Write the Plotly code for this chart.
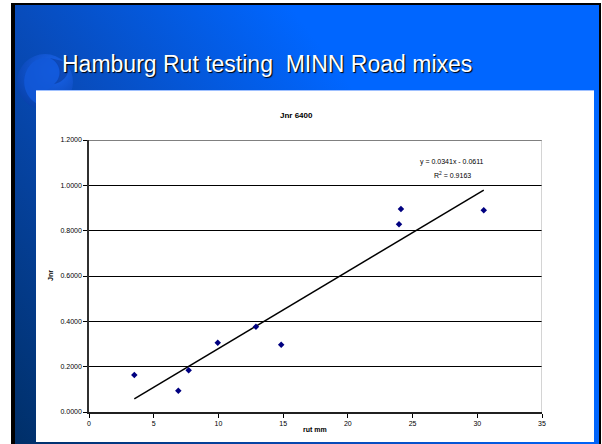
import base64
import plotly.graph_objects as go

# ---- data ----
rut_mm = [3.5, 6.9, 7.7, 9.95, 12.9, 14.85, 23.95, 24.1, 30.5]
jnr = [0.163, 0.094, 0.184, 0.306, 0.376, 0.297, 0.828, 0.896, 0.890]
slope = 0.0341
intercept = -0.0611
r_squared = 0.9163
x_ticks = [0, 5, 10, 15, 20, 25, 30, 35]
y_ticks = [0.0, 0.2, 0.4, 0.6, 0.8, 1.0, 1.2]

W, H = 602, 444

trend_x = [min(rut_mm), max(rut_mm)]
trend_y = [slope * v + intercept for v in trend_x]

# ---- slide background as an inline SVG ----
svg = f'''<svg xmlns="http://www.w3.org/2000/svg" width="{W}" height="{H}" viewBox="0 0 {W} {H}">
<defs>
<linearGradient id="g" gradientUnits="userSpaceOnUse" x1="15" y1="444" x2="400" y2="150">
<stop offset="0" stop-color="#002f68"/>
<stop offset="0.55" stop-color="#084cbc"/>
<stop offset="1" stop-color="#0066ff"/>
</linearGradient>
<radialGradient id="r" cx="0.65" cy="0.3" r="0.8">
<stop offset="0" stop-color="#1a66f0"/>
<stop offset="1" stop-color="#0740a8"/>
</radialGradient>
</defs>
<rect x="0" y="0" width="{W}" height="{H}" fill="#ffffff"/>
<rect x="11" y="3" width="590" height="441" fill="#000000"/>
<rect x="15" y="5" width="584" height="439" fill="url(#g)"/>
<circle cx="45" cy="82" r="28" fill="url(#r)"/>
<path d="M33 62 C 48 52, 66 62, 60 78 C 55 90, 40 88, 38 104 C 24 98, 18 76, 33 62 Z" fill="#1258d8" opacity="0.85"/>
<path d="M50 58 C 62 64, 62 78, 54 84 C 66 82, 72 70, 66 62 Z" fill="#0a3c9c" opacity="0.6"/>
<rect x="36" y="90" width="558" height="352" fill="#ffffff"/>
<rect x="36" y="90" width="558" height="1" fill="#9fc0ff"/>
</svg>'''
svg_uri = "data:image/svg+xml;base64," + base64.b64encode(svg.encode()).decode()

def px(x):
    return x / W

def py(y):
    return 1 - y / H

fig = go.Figure()

fig.add_trace(go.Scatter(
    x=trend_x, y=trend_y, mode="lines",
    line=dict(color="black", width=1.5),
    hoverinfo="skip", showlegend=False,
))
fig.add_trace(go.Scatter(
    x=rut_mm, y=jnr, mode="markers",
    marker=dict(symbol="diamond", size=5, color="#000080"),
    showlegend=False,
))

tick_font = dict(family="Liberation Sans, Arial, sans-serif", size=7, color="black")

fig.update_xaxes(
    domain=[px(89), px(542)], range=[0, 35], tickvals=x_ticks,
    ticks="outside", ticklen=4, tickcolor="black", tickwidth=1,
    showline=True, linecolor="#202020", linewidth=1.5,
    showgrid=False, zeroline=False, tickfont=tick_font, automargin=False,
)
fig.update_yaxes(
    domain=[py(412), py(140)], range=[0, 1.2], tickvals=y_ticks,
    tickformat=".4f", ticks="outside", ticklen=4, tickcolor="black", tickwidth=1,
    showline=True, linecolor="#303030", linewidth=1.5,
    showgrid=True, gridcolor="black", gridwidth=1,
    zeroline=False, tickfont=tick_font, automargin=False,
)

# plot area top / right border
fig.add_shape(type="line", xref="x", yref="y", x0=0, x1=35, y0=1.2, y1=1.2,
              line=dict(color="#808080", width=2))
fig.add_shape(type="line", xref="x", yref="y", x0=35, x1=35, y0=0, y1=1.2,
              line=dict(color="#a8a8a8", width=1))

annotations = [
    dict(text="Hamburg Rut testing  MINN Road mixes", x=px(267), y=py(64),
         font=dict(family="Liberation Sans, Arial, sans-serif", size=23, color="white",
                   shadow="1px 1px 1px #000000")),
    dict(text="<b>Jnr 6400</b>", x=px(296), y=py(115),
         font=dict(family="Liberation Sans, Arial, sans-serif", size=8, color="black")),
    dict(text="<b>Jnr</b>", x=px(50), y=py(276), textangle=-90,
         font=dict(family="Liberation Sans, Arial, sans-serif", size=7, color="black")),
    dict(text="<b>rut mm</b>", x=px(315), y=py(429),
         font=dict(family="Liberation Sans, Arial, sans-serif", size=7, color="black")),
    dict(text=f"y = {slope:.4f}x - {abs(intercept):.4f}", x=px(452), y=py(162),
         font=dict(family="Liberation Sans, Arial, sans-serif", size=7, color="black")),
    dict(text=f"R<sup>2</sup> = {r_squared:.4f}", x=px(452), y=py(175),
         font=dict(family="Liberation Sans, Arial, sans-serif", size=7, color="black")),
]
for a in annotations:
    a.update(xref="paper", yref="paper", showarrow=False, xanchor="center", yanchor="middle")

fig.update_layout(
    width=W, height=H,
    margin=dict(l=0, r=0, t=0, b=0),
    paper_bgcolor="white",
    plot_bgcolor="#c0c0c0",
    annotations=annotations,
    images=[dict(source=svg_uri, xref="paper", yref="paper", x=0, y=1,
                 sizex=1, sizey=1, xanchor="left", yanchor="top",
                 sizing="stretch", layer="below")],
    showlegend=False,
)

fig.write_html(
    "out.html",
    config={"displayModeBar": False},
    post_script="document.body.style.margin='0';document.body.style.overflow='hidden';",
)
